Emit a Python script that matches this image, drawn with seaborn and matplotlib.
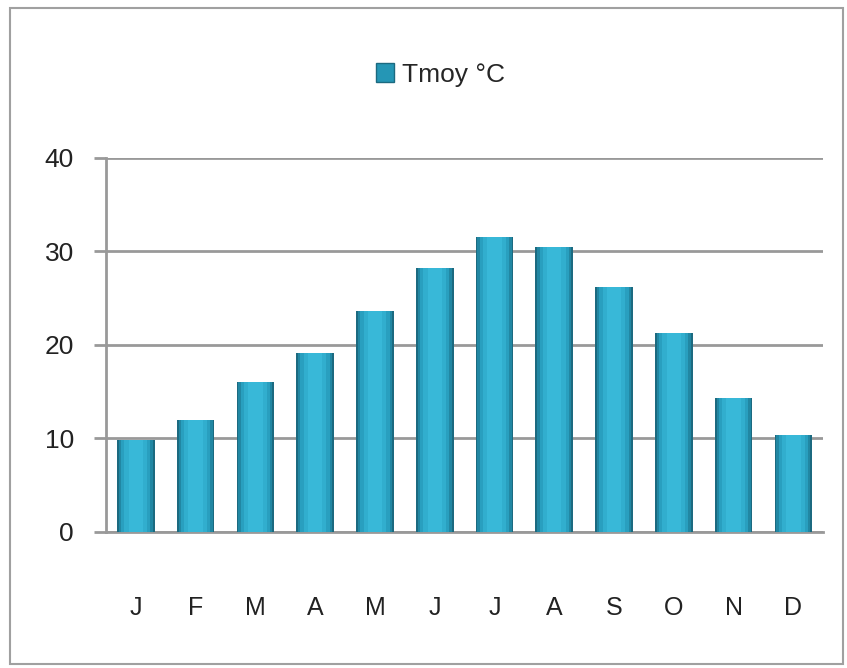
import matplotlib
matplotlib.use('Agg')
import matplotlib.pyplot as plt
import numpy as np
import pandas as pd
import seaborn as sns
from matplotlib.patches import Rectangle

sns.set_style('white')
plt.rcParams['font.family'] = ['Liberation Sans Narrow', 'Liberation Sans', 'DejaVu Sans']

# monthly mean temperature
months = ['J', 'F', 'M', 'A', 'M ', 'J ', 'J  ', 'A ', 'S', 'O', 'N', 'D']
month_labels = ['J', 'F', 'M', 'A', 'M', 'J', 'J', 'A', 'S', 'O', 'N', 'D']
tmoy = [9.8, 12.0, 16.0, 19.1, 23.6, 28.2, 31.5, 30.5, 26.2, 21.3, 14.3, 10.4]

df = pd.DataFrame({'month': months, 'tmoy': tmoy})

fig = plt.figure(figsize=(8.47, 6.68), dpi=100)
ax = fig.add_axes([0.125, 0.2036, 0.847, 0.5599])

# outer chart frame
fig.patches.append(Rectangle((0.012, 0.006), 0.983, 0.982, transform=fig.transFigure,
                             fill=False, edgecolor='#a0a0a0', linewidth=1.5))

# layered bars, dark outside to light inside, to mimic the shading
layers = [(0.63, '#1c6a80'), (0.57, '#2187a3'), (0.49, '#299fbf'), (0.38, '#31aece'), (0.24, '#38b8d8')]
for i, (w, c) in enumerate(layers):
    sns.barplot(data=df, x='month', y='tmoy', color=c, width=w, saturation=1,
                linewidth=0, ax=ax, zorder=3 + i)

ax.set_ylim(0, 40)
ax.set_xlim(-0.5, 11.5)
ax.set_yticks([0, 10, 20, 30, 40])
ax.yaxis.grid(True, color='#999999', linewidth=2, zorder=0)
ax.set_axisbelow(True)

ax.set_xticks(range(12))
ax.set_xticklabels(month_labels)
ax.set_xticks(np.arange(-0.5, 12, 1), minor=True)
ax.tick_params(axis='x', which='major', length=0, pad=46, labelsize=18, labelcolor='#222222')
ax.tick_params(axis='x', which='minor', length=10, width=1.5, color='#999999', direction='out')
ax.tick_params(axis='y', length=9, width=2, color='#999999', pad=14, labelsize=19,
               labelcolor='#222222', left=True)

for side in ['top', 'right']:
    ax.spines[side].set_visible(False)
for side in ['left', 'bottom']:
    ax.spines[side].set_color('#999999')
    ax.spines[side].set_linewidth(2)

ax.set_xlabel('')
ax.set_ylabel('')
if ax.get_legend() is not None:
    ax.get_legend().remove()

legend_handle = Rectangle((0, 0), 1, 1, facecolor='#2596b5', edgecolor='#1c6a80')
fig.legend([legend_handle], ['Tmoy °C'], loc='center', bbox_to_anchor=(0.52, 0.888),
           frameon=False, fontsize=19, handlelength=0.7, handleheight=0.7,
           handletextpad=0.3)

plt.savefig('out.png', dpi=100)
